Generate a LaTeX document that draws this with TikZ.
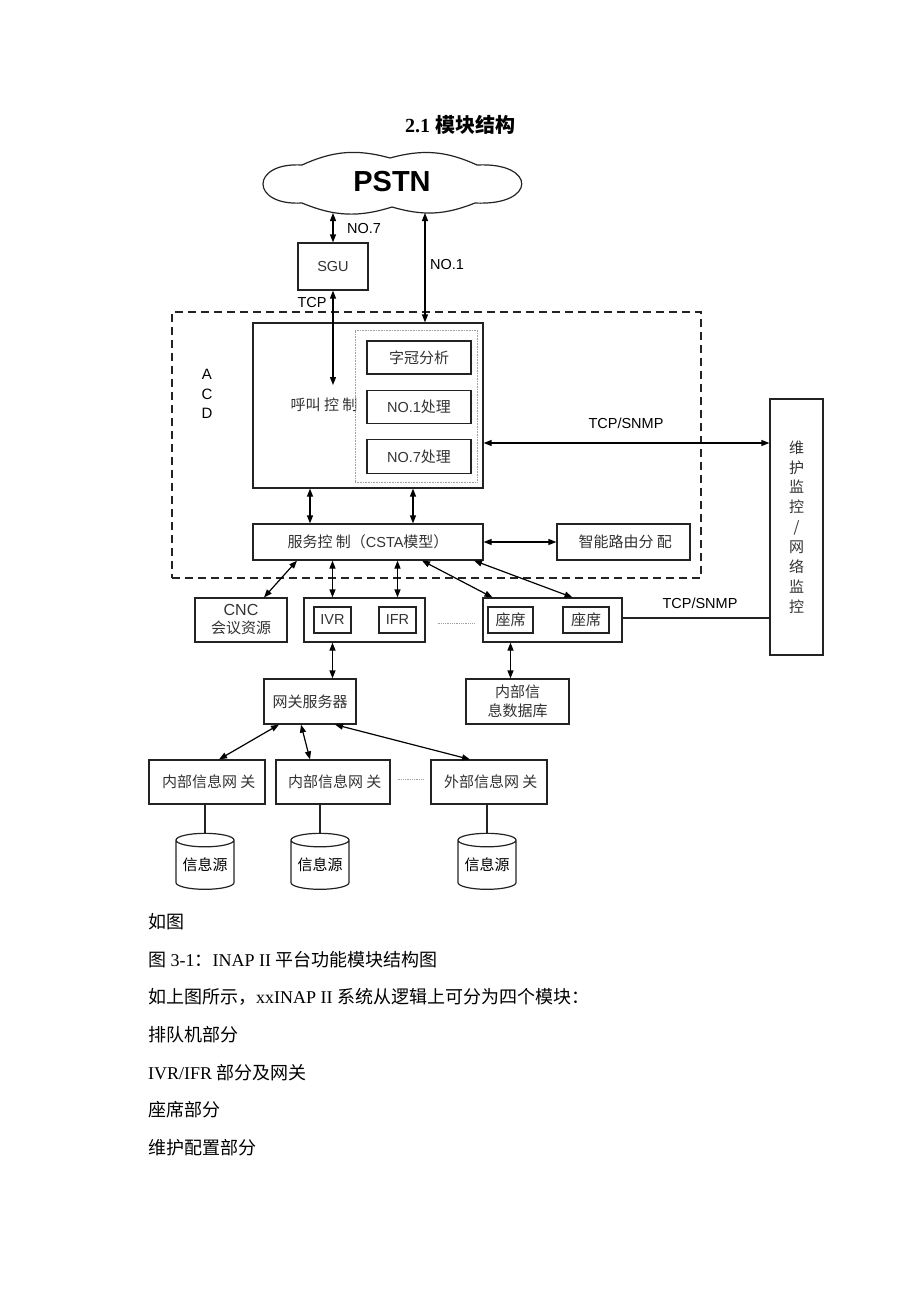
\documentclass[tikz,border=0pt]{standalone}
\usepackage{fontspec}
\setmainfont{Liberation Serif}
\setsansfont{Liberation Sans}
\newfontfamily\cjk{Noto Sans CJK SC}
\usetikzlibrary{arrows.meta, calc, positioning, shapes.geometric}
\definecolor{linegray}{RGB}{35,35,35}
\definecolor{textgray}{RGB}{50,50,50}
\definecolor{dotgray}{RGB}{160,160,160}

\begin{document}
\begin{tikzpicture}[x=1pt, y=-1pt, >={Triangle[length=8pt,width=6pt]},
    blk/.style={draw=linegray, line width=1.2pt, inner sep=0pt, align=center, text=textgray},
    link/.style={<->, line width=1.2pt},
    plain/.style={line width=1.2pt, draw=linegray},
    zhf/.style={font=\cjk\fontsize{15}{18}\selectfont},
    enf/.style={font=\sffamily\fontsize{14.5}{17}\selectfont},
    para/.style={anchor=base west, inner sep=0pt, font=\fontsize{18}{20}\selectfont}]
\useasboundingbox (0,0) rectangle (920,1302);

% Title
\node[font=\bfseries\fontsize{20}{24}\selectfont] (title) at (460,125) {2.1 {\cjk\bfseries 模块结构}};

% PSTN cloud
\draw[line width=1.2pt, draw=linegray] (302,203) .. controls (250,206) and (250,162) .. (302,165)
    to[bend left=20] (390,158) to[bend left=20] (477,165)
    .. controls (537,162) and (537,206) .. (475,203)
    to[bend left=19] (392,207) to[bend left=20] cycle;
\node[font=\sffamily\bfseries\fontsize{29}{32}\selectfont, inner sep=0pt] (pstn) at (392,182) {PSTN};
\coordinate (pstnbot) at (0,213);

% SGU
\node[blk, enf, minimum width=70pt, minimum height=47pt] (sgu) at (333,266.5) {SGU};
\node[enf, anchor=west, inner sep=0pt] (no7) at (347,229) {NO.7};
\node[enf, anchor=west, inner sep=0pt] (no1lbl) at (430,265) {NO.1};
\node[enf, inner sep=0pt] (tcp) at (312,303) {TCP};

% ACD frame
\node[draw=linegray, line width=1.2pt, dash pattern=on 8pt off 5pt, minimum width=529pt, minimum height=266pt,
      inner sep=0pt] (acd) at (436.5,445) {};
\node[font=\sffamily\fontsize{15}{19.5}\selectfont, align=center, inner sep=0pt] (acdlbl) at (207,394) {A\\C\\D};

% Call control
\node[blk, minimum width=230pt, minimum height=165pt] (call) at (368,405.5) {};
\node[zhf, text=textgray, inner sep=0pt] (callt) at (324,405) {呼叫 控 制};
\node[draw=dotgray, densely dotted, line width=0.6pt, minimum width=122pt, minimum height=152pt,
      inner sep=0pt] (inner) at (416,406) {};
\node[blk, zhf, minimum width=104pt, minimum height=33pt] (prefix) at (419,357.5) {字冠分析};
\node[blk, minimum width=104pt, minimum height=33pt] (no1p) at (419,407)
    {{\sffamily\fontsize{14.5}{17}\selectfont NO.1}{\cjk\fontsize{15}{17}\selectfont 处理}};
\node[blk, minimum width=104pt, minimum height=34pt] (no7p) at (419,456.5)
    {{\sffamily\fontsize{14.5}{17}\selectfont NO.7}{\cjk\fontsize{15}{17}\selectfont 处理}};

% Service control
\node[blk, minimum width=230pt, minimum height=36pt] (svc) at (368,542)
    {{\cjk\fontsize{15}{17}\selectfont 服务控 制（}{\sffamily\fontsize{14.5}{17}\selectfont CSTA}{\cjk\fontsize{15}{17}\selectfont 模型）}};
\node[blk, zhf, minimum width=133pt, minimum height=36pt] (route) at (623.5,542) {\ 智能路由分 配};

% Monitor
\node[blk, font=\cjk\fontsize{15}{19.9}\selectfont, minimum width=53pt, minimum height=256pt] (mon) at (796.5,527)
    {维\\护\\监\\控\\/\\网\\络\\监\\控};
\node[enf, inner sep=0pt] (snmp1) at (626,423) {TCP/SNMP};
\node[enf, inner sep=0pt] (snmp2) at (700,603) {TCP/SNMP};

% Resources row
\node[blk, font=\fontsize{16}{18}\selectfont, minimum width=92pt, minimum height=44pt] (cnc) at (241,620)
    {{\sffamily CNC}\\{\cjk\fontsize{15}{18}\selectfont 会议资源}};
\node[blk, minimum width=121pt, minimum height=44pt] (ivrbox) at (364.5,620) {};
\node[blk, enf, minimum width=37pt, minimum height=26pt] (ivr) at (332.5,620) {IVR};
\node[blk, enf, minimum width=37pt, minimum height=26pt] (ifr) at (397.5,620) {IFR};
\node[blk, minimum width=139pt, minimum height=44pt] (seatbox) at (552.5,620) {};
\node[blk, zhf, minimum width=45pt, minimum height=26pt] (seat1) at (510.5,620) {座席};
\node[blk, zhf, minimum width=46pt, minimum height=26pt] (seat2) at (586,620) {座席};

\node[blk, zhf, minimum width=92pt, minimum height=45pt] (gwsrv) at (310,701.5) {网关服务器};
\node[blk, font=\cjk\fontsize{15}{19}\selectfont, minimum width=103pt, minimum height=45pt] (db) at (517.5,701.5) {内部信\\息数据库};

% Gateways and sources
\foreach \i/\x/\c/\w/\t in {1/207/205/116/内部信息网 关, 2/333/320/114/内部信息网 关, 3/489/487/116/外部信息网 关} {
    \node[blk, zhf, minimum width=\w pt, minimum height=44pt] (gw\i) at (\x,782) {\ \t};
    \node[cylinder, shape border rotate=90, aspect=0.3, draw=linegray, line width=1.2pt, inner sep=0pt,
          minimum width=58pt, minimum height=56pt, font=\cjk\fontsize{15}{17}\selectfont] (src\i) at (\c,865) {信息源};
    \draw[plain] (src\i.top) -- (src\i.top |- gw\i.south);
}

% Connectors
\coordinate (no1x) at (425,0);
\coordinate (tcpend) at (333,385);
\coordinate (snmpy) at (0,443);
\draw[link] (sgu.north) -- (sgu.north |- pstnbot);
\draw[link] (pstnbot -| no1x) -- (call.north -| no1x);
\draw[link] (sgu.south) -- (tcpend);
\draw[link] (call.east |- snmpy) -- (mon.west |- snmpy);
\draw[link] (call.south -| 310,0) -- (svc.north -| 310,0);
\draw[link] (call.south -| 413,0) -- (svc.north -| 413,0);
\draw[link] (svc.east) -- (route.west);
\draw[link] ($(svc.south)+(-71,0)$) -- ($(cnc.north)+(23,0)$);
\draw[link] (svc.south -| ivr) -- (ivrbox.north -| ivr);
\draw[link] (svc.south -| ifr) -- (ivrbox.north -| ifr);
\draw[link] ($(svc.south)+(54,0)$) -- ($(seatbox.north)+(-60,0)$);
\draw[link] ($(svc.south)+(106,0)$) -- ($(seatbox.north)+(20,0)$);
\draw[plain] (seatbox.east |- 0,618) -- (mon.west |- 0,618);
\draw[link] (ivrbox.south -| ivr) -- (gwsrv.north -| ivr);
\draw[link] (seatbox.south -| seat1) -- (db.north -| seat1);
\draw[link] ($(gwsrv.south)+(-31,0)$) -- ($(gw1.north)+(12,0)$);
\draw[link] ($(gwsrv.south)+(-9,0)$) -- ($(gw2.north)+(-23,0)$);
\draw[link] ($(gwsrv.south)+(25,0)$) -- ($(gw3.north)+(-19,0)$);
\draw[dotgray, densely dotted, line width=0.8pt, shorten <=12pt, shorten >=8pt] (ivrbox.east |- 0,623) -- (seatbox.west |- 0,623);
\draw[dotgray, densely dotted, line width=0.8pt, shorten <=7pt, shorten >=6pt] (gw2.east |- 0,779) -- (gw3.west |- 0,779);

% Text below
\node[para] (p1) at (148,928) {{\cjk 如图}};
\node[para] (p2) at (148,966) {{\cjk 图} 3-1{\cjk ：}INAP II {\cjk 平台功能模块结构图}};
\node[para] (p3) at (148,1003) {{\cjk 如上图所示，}xxINAP II {\cjk 系统从逻辑上可分为四个模块：}};
\node[para] (p4) at (148,1041) {{\cjk 排队机部分}};
\node[para] (p5) at (148,1079) {IVR/IFR {\cjk 部分及网关}};
\node[para] (p6) at (148,1116) {{\cjk 座席部分}};
\node[para] (p7) at (148,1154) {{\cjk 维护配置部分}};
\end{tikzpicture}
\end{document}
